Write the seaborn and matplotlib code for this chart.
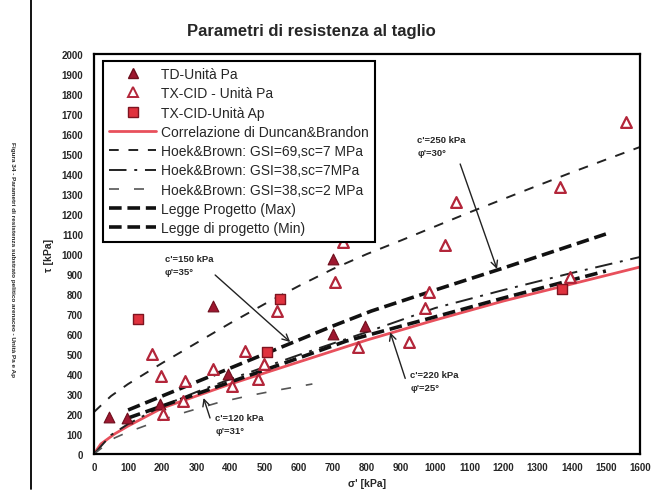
import matplotlib
matplotlib.use("Agg")
import matplotlib.pyplot as plt
from matplotlib.lines import Line2D
import seaborn as sns
import pandas as pd

# ---------------- data ----------------
td_pa_sigma = [44, 98, 194, 350, 394, 700, 699, 795]
td_pa_tau = [183, 178, 250, 738, 400, 975, 600, 638]

tx_pa_sigma = [169, 195, 203, 262, 267, 350, 404, 443, 482, 497, 536, 707, 731,
               775, 922, 971, 983, 1030, 1062, 1367, 1396, 1560]
tx_pa_tau = [500, 392, 200, 267, 367, 425, 342, 517, 375, 450, 717, 858, 1058,
             533, 558, 728, 808, 1047, 1258, 1333, 883, 1662]

tx_ap_sigma = [128, 506, 545, 1371]
tx_ap_tau = [675, 508, 775, 825]

duncan_sigma = [0, 20, 60, 100, 200, 300, 400, 500, 600, 700, 800, 1000, 1200, 1400, 1600]
duncan_tau = [0, 50, 100, 140, 230, 290, 350, 405, 460, 515, 570, 670, 765, 850, 935]

hb69_sigma = [0, 50, 100, 200, 300, 400, 500, 600, 700, 800, 900, 1000, 1100, 1200, 1300, 1400, 1500, 1600]
hb69_tau = [210, 290, 350, 455, 555, 655, 750, 840, 925, 1000, 1068, 1138, 1208, 1275, 1342, 1408, 1472, 1535]

hb38_7_sigma = [0, 50, 100, 200, 300, 400, 500, 600, 800, 1000, 1200, 1400, 1600]
hb38_7_tau = [0, 95, 150, 240, 310, 375, 435, 495, 610, 730, 820, 905, 985]

hb38_2_sigma = [0, 60, 100, 180, 270, 360, 450, 540, 640]
hb38_2_tau = [0, 80, 110, 160, 210, 255, 290, 320, 350]

max_sigma = [100, 300, 500, 700, 813, 1000, 1200, 1500]
max_tau = [220, 360, 500, 640, 715, 820, 930, 1100]

min_sigma = [100, 200, 400, 600, 740, 1000, 1200, 1500]
min_tau = [180, 240, 360, 480, 565, 686, 780, 915]

x_ticks = list(range(0, 1700, 100))
y_ticks = list(range(0, 2100, 100))

legend_labels = ["TD-Unità Pa", "TX-CID - Unità Pa", "TX-CID-Unità Ap",
                 "Correlazione di Duncan&Brandon",
                 "Hoek&Brown: GSI=69,sc=7 MPa",
                 "Hoek&Brown: GSI=38,sc=7MPa",
                 "Hoek&Brown: GSI=38,sc=2 MPa",
                 "Legge Progetto (Max)",
                 "Legge di progetto (Min)"]

title = "Parametri di resistenza al taglio"
caption = "Figura 34 - Parametri di resistenza substrato pelitico arenaceo - Unità Pa e Ap"

# ---------------- styling ----------------
sns.set_theme(style="white")
plt.rcParams["font.family"] = ["Liberation Sans Narrow", "Liberation Sans", "DejaVu Sans"]

RED_DARK = "#9e1830"
RED_EDGE = "#b3263a"
SQ_FILL = "#e0323e"
SQ_EDGE = "#7e1420"
DUNCAN = "#e8505c"

fig = plt.figure(figsize=(6.51, 5.02), dpi=100)
ax = fig.add_axes([94 / 651, 47 / 502, 546 / 651, 400 / 502])
ax.set_facecolor("white")

def draw_line(xs, ys, color, lw, dashes, z):
    df = pd.DataFrame({"s": xs, "t": ys})
    n0 = len(ax.lines)
    sns.lineplot(data=df, x="s", y="t", ax=ax, color=color, lw=lw,
                 sort=False, estimator=None, legend=False, zorder=z)
    ln = ax.lines[n0]
    if dashes is not None:
        ln.set_dashes(dashes)
    return ln

draw_line(duncan_sigma, duncan_tau, DUNCAN, 2.0, None, 2)
draw_line(hb69_sigma, hb69_tau, "#222222", 1.4, (5, 5), 2)
draw_line(hb38_7_sigma, hb38_7_tau, "#222222", 1.4, (9, 4, 1.5, 4), 2)
draw_line(hb38_2_sigma, hb38_2_tau, "#555555", 1.2, (6, 9), 2)
draw_line(max_sigma, max_tau, "#111111", 2.6, (3.5, 1.6), 3)
draw_line(min_sigma, min_tau, "#111111", 2.6, (3.5, 1.6), 3)

sns.scatterplot(x=td_pa_sigma, y=td_pa_tau, ax=ax, marker="^", s=60,
                color=RED_DARK, edgecolor="#6e0e1c", linewidth=0.8, zorder=5, legend=False)
sns.scatterplot(x=tx_pa_sigma, y=tx_pa_tau, ax=ax, marker="^", s=60,
                facecolor="white", edgecolor=RED_EDGE, linewidth=1.6, zorder=5, legend=False)
sns.scatterplot(x=tx_ap_sigma, y=tx_ap_tau, ax=ax, marker="s", s=55,
                color=SQ_FILL, edgecolor=SQ_EDGE, linewidth=1.0, zorder=5, legend=False)

ax.set_xlim(0, 1600)
ax.set_ylim(0, 2000)
ax.set_xticks(x_ticks)
ax.set_yticks(y_ticks)
ax.set_xticklabels([str(v) for v in x_ticks], fontsize=7, fontweight="bold")
ax.set_yticklabels([str(v) for v in y_ticks], fontsize=7, fontweight="bold")
ax.tick_params(axis="x", direction="in", length=3, width=1, pad=6, color="black")
ax.tick_params(axis="y", direction="in", length=0, pad=8)
ax.set_xlabel("σ' [kPa]", fontsize=7.5, fontweight="bold", labelpad=4)
ax.set_ylabel("τ [kPa]", fontsize=7.5, fontweight="bold", labelpad=5)
for sp in ax.spines.values():
    sp.set_visible(True)
    sp.set_color("black")
    sp.set_linewidth(1.6)

# annotations
ann_kw = dict(fontsize=6.8, fontweight="bold", ha="left", va="top", linespacing=1.6)
ax.text(208, 1000, "c'=150 kPa\nφ'=35°", **ann_kw)
ax.text(355, 205, "c'=120 kPa\nφ'=31°", **ann_kw)
ax.text(947, 1595, "c'=250 kPa\nφ'=30°", **ann_kw)
ax.text(927, 420, "c'=220 kPa\nφ'=25°", **ann_kw)
arr = dict(arrowstyle="->", color="#222222", lw=1.0, shrinkA=0, shrinkB=0)
ax.annotate("", xy=(575, 560), xytext=(355, 895), arrowprops=arr)
ax.annotate("", xy=(321, 280), xytext=(340, 180), arrowprops=arr)
ax.annotate("", xy=(1181, 925), xytext=(1073, 1450), arrowprops=arr)
ax.annotate("", xy=(868, 608), xytext=(912, 378), arrowprops=arr)

# legend
handles = [
    Line2D([], [], ls="none", marker="^", ms=7.5, mfc=RED_DARK, mec="#6e0e1c"),
    Line2D([], [], ls="none", marker="^", ms=7.5, mfc="white", mec=RED_EDGE, mew=1.4),
    Line2D([], [], ls="none", marker="s", ms=7, mfc=SQ_FILL, mec=SQ_EDGE),
    Line2D([], [], color=DUNCAN, lw=2.0),
    Line2D([], [], color="#222222", lw=1.4, dashes=(5, 5)),
    Line2D([], [], color="#222222", lw=1.4, dashes=(9, 4, 1.5, 4)),
    Line2D([], [], color="#555555", lw=1.2, dashes=(6, 9)),
    Line2D([], [], color="#111111", lw=2.6, dashes=(3.5, 1.6)),
    Line2D([], [], color="#111111", lw=2.6, dashes=(3.5, 1.6)),
]
leg = ax.legend(handles, legend_labels, loc="upper left", bbox_to_anchor=(0.016, 0.983),
                borderaxespad=0, fontsize=10, frameon=True, fancybox=False,
                framealpha=1, edgecolor="black", labelspacing=0.38,
                handlelength=3.4, handletextpad=0.35, borderpad=0.45)
leg.get_frame().set_linewidth(1.5)
leg.set_zorder(10)

# title, caption, margin line
fig.text(0.479, 0.938, title, fontsize=12, fontweight="bold", ha="center", va="center",
         family=["Liberation Sans Narrow", "Liberation Sans", "DejaVu Sans"])
fig.text(12 / 651, 1 - 260 / 502, caption, rotation=270, fontsize=4.6, fontweight="bold",
         ha="center", va="center")
fig.add_artist(Line2D([31 / 651, 31 / 651], [1 - 490 / 502, 1.0], color="black", lw=1.3,
                      transform=fig.transFigure))

fig.savefig("out.png", dpi=100, facecolor="white")
